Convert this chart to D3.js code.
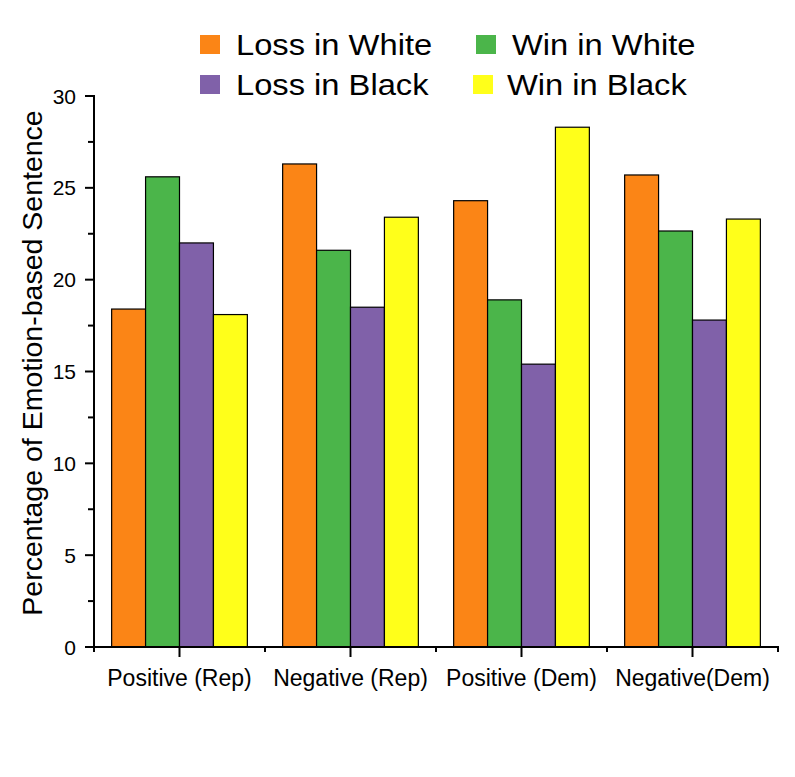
<!DOCTYPE html>
<html><head><meta charset="utf-8">
<script src="https://cdn.jsdelivr.net/npm/d3@7"></script>
<style>body{margin:0;background:#fff}svg{display:block}text{font-family:"Liberation Sans",Arial,sans-serif}</style>
</head><body><svg id="c" width="795" height="777"></svg>
<script>
const categories = ["Positive (Rep)", "Negative (Rep)", "Positive (Dem)", "Negative(Dem)"];
const seriesNames = ["Loss in White", "Win in White", "Loss in Black", "Win in Black"];
const lossWhite = [18.4, 26.3, 24.3, 25.7];
const winWhite = [25.6, 21.6, 18.9, 22.65];
const lossBlack = [22.0, 18.5, 15.4, 17.8];
const winBlack = [18.1, 23.4, 28.3, 23.3];
const colors = ["#FB8516", "#4BB54A", "#8061A9", "#FFFF1A"];
const yTicks = [0, 5, 10, 15, 20, 25, 30];

const series = [lossWhite, winWhite, lossBlack, winBlack];
const svg = d3.select("#c");
const x0 = 94, x1 = 778, yTop = 96, yBot = 647;

const x = d3.scaleBand().domain(categories).range([x0, x1]).paddingInner(0).paddingOuter(0);
const xs = d3.scaleBand().domain(d3.range(4)).range([0, x.bandwidth()]).paddingOuter(0.52).paddingInner(0);
const y = d3.scaleLinear().domain([0, 30]).range([yBot, yTop]);

// bars
categories.forEach((c, ci) => {
  series.forEach((s, si) => {
    svg.append("rect")
      .attr("x", x(c) + xs(si))
      .attr("y", y(s[ci]))
      .attr("width", xs.bandwidth())
      .attr("height", y(0) - y(s[ci]))
      .attr("fill", colors[si])
      .attr("stroke", "#000").attr("stroke-width", 1.2);
  });
});

// y axis
const gy = svg.append("g").attr("transform", `translate(${x0},0)`);
gy.append("line").attr("x1", 0).attr("x2", 0).attr("y1", yTop - 1).attr("y2", yBot + 1).attr("stroke", "#000").attr("stroke-width", 2);
d3.range(0, 30.01, 2.5).forEach(v => {
  const major = v % 5 === 0;
  gy.append("line").attr("x1", major ? -9 : -6).attr("x2", 0).attr("y1", y(v)).attr("y2", y(v)).attr("stroke", "#000").attr("stroke-width", 2);
});
yTicks.forEach(v => {
  gy.append("text").attr("x", -18).attr("y", y(v)).attr("dy", "0.36em").attr("text-anchor", "end")
    .attr("font-size", 21).text(v);
});

// x axis
const gx = svg.append("g").attr("transform", `translate(0,${yBot})`);
gx.append("line").attr("x1", x0 - 1).attr("x2", x1 + 1).attr("y1", 0).attr("y2", 0).attr("stroke", "#000").attr("stroke-width", 2);
categories.forEach(c => {
  const cx = x(c) + x.bandwidth() / 2;
  gx.append("line").attr("x1", cx).attr("x2", cx).attr("y1", 0).attr("y2", 10).attr("stroke", "#000").attr("stroke-width", 2);
  gx.append("line").attr("x1", x(c)).attr("x2", x(c)).attr("y1", 0).attr("y2", 5).attr("stroke", "#000").attr("stroke-width", 2);
  gx.append("text").attr("x", cx).attr("y", 39).attr("text-anchor", "middle").attr("font-size", 23).text(c);
});
gx.append("line").attr("x1", x1).attr("x2", x1).attr("y1", 0).attr("y2", 5).attr("stroke", "#000").attr("stroke-width", 2);

// y label
svg.append("text").attr("transform", `translate(42,363) rotate(-90)`)
  .attr("text-anchor", "middle").attr("font-size", 28.5).text("Percentage of Emotion-based Sentence");

// legend
const legPos = [[200, 35], [476, 35], [200, 75], [473, 75]];
const textX = [236, 512, 236, 507];
seriesNames.forEach((n, i) => {
  const [lx, ly] = legPos[i];
  svg.append("rect").attr("x", lx).attr("y", ly).attr("width", 20).attr("height", 19).attr("fill", colors[i]);
  svg.append("text").attr("transform", `translate(${textX[i]},${ly + 20}) scale(1.09,1)`)
    .attr("font-size", 30).text(n);
});
</script></body></html>
